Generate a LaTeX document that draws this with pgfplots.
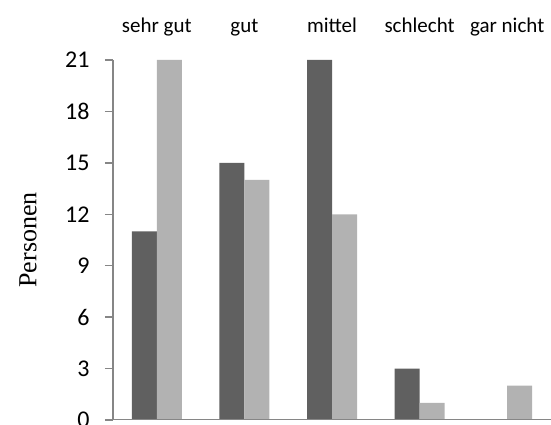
\documentclass[border=0pt]{standalone}
\usepackage{fontspec}
\setmainfont{Carlito}
\newfontfamily\serifperson{Liberation Serif}
\usepackage{pgfplots}
\pgfplotsset{compat=1.18}
\definecolor{darkbar}{HTML}{606060}
\definecolor{lightbar}{HTML}{B2B2B2}
\definecolor{axisgray}{HTML}{868686}
\begin{document}
\begin{tikzpicture}
\begin{axis}[
    name=A,
    scale only axis,
    width=438pt, height=360pt,
    ybar=0pt, bar width=25pt,
    xmin=-0.5, xmax=4.5,
    ymin=0, ymax=21,
    ytick={0,3,...,21},
    xtick=data,
    xticklabels={sehr gut,gut,mittel,schlecht,gar nicht},
    axis x line*=top, axis y line*=left,
    xtick style={draw=none},
    ytick style={draw=axisgray, line width=1.5pt},
    tick align=outside,
    major tick length=8pt,
    axis line style={draw=axisgray, line width=1.5pt},
    x axis line style={draw=none},
    /pgf/number format/assume math mode=true,
    yticklabel style={font=\fontsize{24}{28}\selectfont, xshift=-12pt},
    xticklabel style={font=\fontsize{21}{25}\selectfont, anchor=base, yshift=19pt},
    ylabel={Personen},
    every axis y label/.style={at={(rel axis cs:0,0.5)}, xshift=-85pt, rotate=90, anchor=center, font=\serifperson\fontsize{26}{30}\selectfont},
  ]
\addplot[fill=darkbar, draw=none] coordinates {(0,11) (1,15) (2,21) (3,3) (4,0)};
\addplot[fill=lightbar, draw=none] coordinates {(0,21) (1,14) (2,12) (3,1) (4,2)};
\draw[axisgray, line width=1.5pt] (rel axis cs:0,0) -- (rel axis cs:1,0);
\end{axis}
\pgfresetboundingbox
\path[use as bounding box] ([xshift=-113pt,yshift=-5pt]A.south west) rectangle ([yshift=60pt]A.north east);
\end{tikzpicture}
\end{document}
